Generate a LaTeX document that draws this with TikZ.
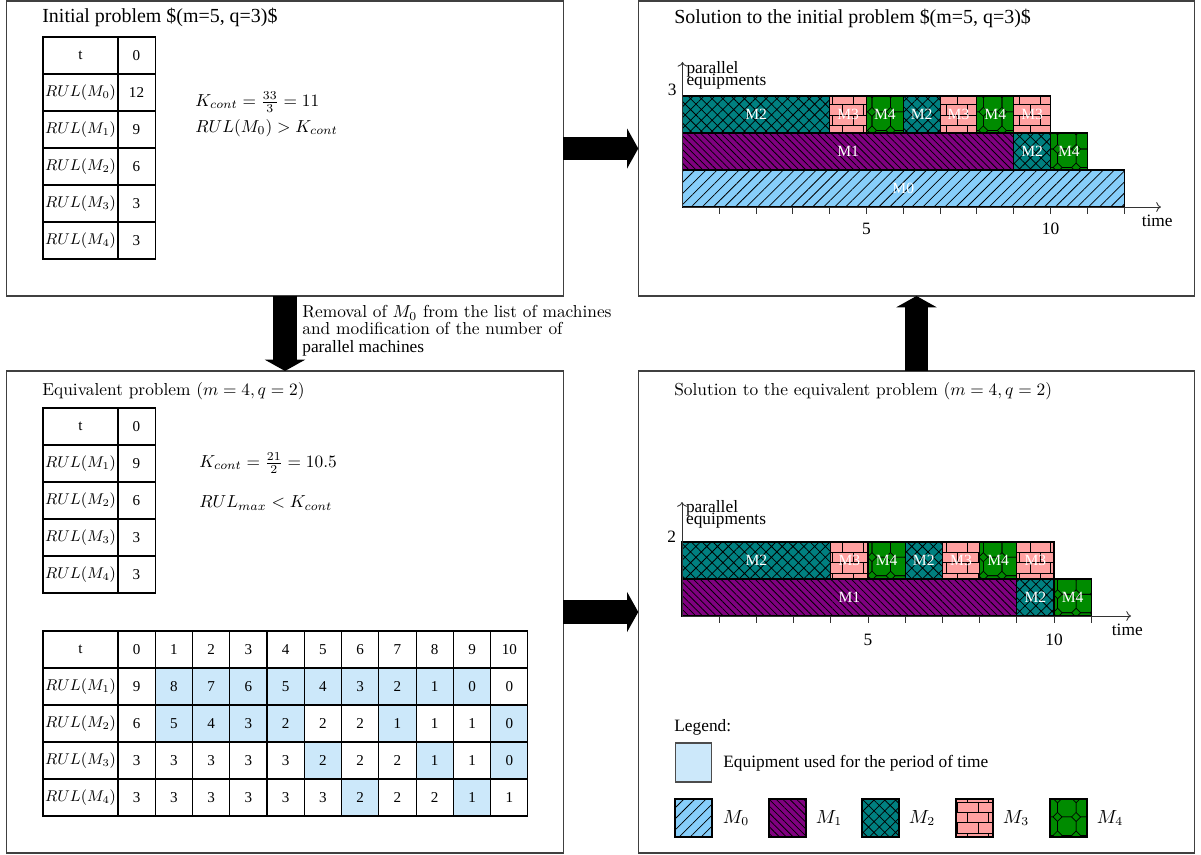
\documentclass[tikz,border=0pt]{standalone}
\usepackage{fontspec}
\newfontfamily\tms{Liberation Serif}
\usetikzlibrary{arrows.meta,patterns,patterns.meta}

\definecolor{mzerocol}{RGB}{135,206,250}
\definecolor{monecol}{RGB}{128,0,128}
\definecolor{mtwocol}{RGB}{0,128,128}
\definecolor{mthreecol}{RGB}{255,160,160}
\definecolor{mfourcol}{RGB}{0,139,0}
\definecolor{usedcol}{RGB}{204,232,250}

% brick wall for M3
\pgfdeclarepatternformonly{brickwall}{\pgfqpoint{-0.5pt}{-0.5pt}}{\pgfqpoint{12.5pt}{12.5pt}}{\pgfqpoint{12pt}{12pt}}{
  \pgfsetlinewidth{0.5pt}
  \pgfpathmoveto{\pgfqpoint{0pt}{0pt}}\pgfpathlineto{\pgfqpoint{12pt}{0pt}}
  \pgfpathmoveto{\pgfqpoint{0pt}{6pt}}\pgfpathlineto{\pgfqpoint{12pt}{6pt}}
  \pgfpathmoveto{\pgfqpoint{0pt}{0pt}}\pgfpathlineto{\pgfqpoint{0pt}{6pt}}
  \pgfpathmoveto{\pgfqpoint{6pt}{6pt}}\pgfpathlineto{\pgfqpoint{6pt}{12pt}}
  \pgfusepath{stroke}}
% octagon cells for M4
\pgfdeclarepatternformonly{octcells}{\pgfqpoint{-0.5pt}{-0.5pt}}{\pgfqpoint{11.2pt}{11.2pt}}{\pgfqpoint{10.7pt}{10.7pt}}{
  \pgfsetlinewidth{0.4pt}
  \pgfpathmoveto{\pgfqpoint{2.6pt}{0pt}}
  \pgfpathlineto{\pgfqpoint{8.1pt}{0pt}}
  \pgfpathlineto{\pgfqpoint{10.7pt}{2.6pt}}
  \pgfpathlineto{\pgfqpoint{10.7pt}{8.1pt}}
  \pgfpathlineto{\pgfqpoint{8.1pt}{10.7pt}}
  \pgfpathlineto{\pgfqpoint{2.6pt}{10.7pt}}
  \pgfpathlineto{\pgfqpoint{0pt}{8.1pt}}
  \pgfpathlineto{\pgfqpoint{0pt}{2.6pt}}
  \pgfpathclose
  \pgfusepath{stroke}}

\tikzset{
  toppanel/.style={draw=black!75, line width=0.7pt, outer sep=0pt, minimum width=320.9pt, minimum height=170.1pt},
  botpanel/.style={draw=black!75, line width=0.7pt, outer sep=0pt, minimum width=320.9pt, minimum height=278pt},
  bigarrow/.style={draw=black, line width=13.3pt, -{Triangle[length=6.5pt, width=23pt]}},
  ttitle/.style={anchor=west, inner sep=0pt, font=\tms\fontsize{11.5}{13}\selectfont},
  ctitle/.style={anchor=west, inner sep=0pt, font=\fontsize{10}{12}\selectfont},
  formula/.style={anchor=west, inner sep=0pt, font=\fontsize{10.4}{12}\selectfont},
  note/.style={anchor=north west, align=left, inner sep=0pt, font=\fontsize{10}{10}\selectfont},
  tcell/.style={draw=black, line width=0.6pt, minimum height=21.34pt, inner sep=0pt, font=\tms\fontsize{8.7}{10}\selectfont},
  tused/.style={tcell, fill=usedcol},
  headw/.style={minimum width=43.25pt},
  numw/.style={minimum width=21.45pt},
  mzeroblk/.style={fill=mzerocol, postaction={pattern={Lines[angle=45,distance=4.5pt,line width=0.45pt]}, pattern color=black}, postaction={draw=black, line width=0.6pt}},
  moneblk/.style={fill=monecol, postaction={pattern={Lines[angle=-45,distance=2.8pt,line width=0.45pt]}, pattern color=black}, postaction={draw=black, line width=0.6pt}},
  mtwoblk/.style={fill=mtwocol, postaction={pattern={Hatch[angle=45,distance=4.4pt,line width=0.45pt]}, pattern color=black}, postaction={draw=black, line width=0.6pt}},
  mthreeblk/.style={fill=mthreecol, postaction={pattern=brickwall, pattern color=black}, postaction={draw=black, line width=0.6pt}},
  mfourblk/.style={fill=mfourcol, postaction={pattern=octcells, pattern color=black}, postaction={draw=black, line width=0.6pt}},
  blklabel/.style={text=white, inner sep=0pt, font=\tms\fontsize{9}{10}\selectfont},
  axisline/.style={draw=black!80, line width=0.5pt},
  tlabel/.style={inner sep=0pt, font=\tms\fontsize{10}{12}\selectfont},
  ylabel/.style={anchor=west, inner sep=0pt, font=\tms\fontsize{10}{12}\selectfont},
  leglabel/.style={inner sep=0pt, font=\fontsize{10.5}{12}\selectfont},
}

\begin{document}
\begin{tikzpicture}[x=0.5767pt, y=-0.5767pt]
\useasboundingbox (0,0) rectangle (1201,854);
% the four panels
\node[toppanel] (initpb) at (285,148.5) {};
\node[toppanel] (initsol) at (916.5,148.5) {};
\node[botpanel] (equivpb) at (285,612) {};
\node[botpanel] (equivsol) at (916.5,612) {};
\draw[bigarrow] (initpb.east) -- (initsol.west);
\draw[bigarrow] (initpb.south) -- (equivpb.north);
\draw[bigarrow] (equivpb.east) -- (equivsol.west);
\draw[bigarrow] (equivsol.north) -- (initsol.south);
\node[note] (removal) at (302,305) {Removal of $M_0$ from the list of machines\\and modification of the number of\\{\tms parallel machines}};

% initial problem
\node[ttitle] (inittitle) at (42,17) {Initial problem \$(m=5, q=3)\$};
\node[tcell,headw] (ia0) at (80.5,55.5) {t};
\node[tcell,numw] (ib0) at (136.5,55.5) {0};
\node[tcell,headw] (ia1) at (80.5,92.5) {$RUL(M_0)$};
\node[tcell,numw] (ib1) at (136.5,92.5) {12};
\node[tcell,headw] (ia2) at (80.5,129.5) {$RUL(M_1)$};
\node[tcell,numw] (ib2) at (136.5,129.5) {9};
\node[tcell,headw] (ia3) at (80.5,166.5) {$RUL(M_2)$};
\node[tcell,numw] (ib3) at (136.5,166.5) {6};
\node[tcell,headw] (ia4) at (80.5,203.5) {$RUL(M_3)$};
\node[tcell,numw] (ib4) at (136.5,203.5) {3};
\node[tcell,headw] (ia5) at (80.5,240.5) {$RUL(M_4)$};
\node[tcell,numw] (ib5) at (136.5,240.5) {3};
\node[formula] (initk) at (195,102) {$K_{cont} = \frac{33}{3} = 11$};
\node[formula] (initcmp) at (195,128) {$RUL(M_0) > K_{cont}$};

% equivalent problem
\node[ctitle] (equivtitle) at (42,391) {Equivalent problem $(m=4, q=2)$};
\node[tcell,headw] (ea0) at (80.5,426.5) {t};
\node[tcell,numw] (eb0) at (136.5,426.5) {0};
\node[tcell,headw] (ea1) at (80.5,463.5) {$RUL(M_1)$};
\node[tcell,numw] (eb1) at (136.5,463.5) {9};
\node[tcell,headw] (ea2) at (80.5,500.5) {$RUL(M_2)$};
\node[tcell,numw] (eb2) at (136.5,500.5) {6};
\node[tcell,headw] (ea3) at (80.5,537.5) {$RUL(M_3)$};
\node[tcell,numw] (eb3) at (136.5,537.5) {3};
\node[tcell,headw] (ea4) at (80.5,574.5) {$RUL(M_4)$};
\node[tcell,numw] (eb4) at (136.5,574.5) {3};
\node[formula] (equivk) at (199,463) {$K_{cont} = \frac{21}{2} = 10.5$};
\node[formula] (equivcmp) at (199,503) {$RUL_{max} < K_{cont}$};

% usage table
\node[tcell,headw] (bt0) at (80.5,649.5) {t};
\node[tcell,headw] (bt1) at (80.5,686.5) {$RUL(M_1)$};
\node[tcell,headw] (bt2) at (80.5,723.5) {$RUL(M_2)$};
\node[tcell,headw] (bt3) at (80.5,760.5) {$RUL(M_3)$};
\node[tcell,headw] (bt4) at (80.5,797.5) {$RUL(M_4)$};
\foreach \v [count=\j from 0] in {0,...,10}
  \node[tcell,numw] (bt0c\j) at ({136.6+37.27*\j},649.5) {\v};
\foreach \v/\s [count=\j from 0] in {9/tcell,8/tused,7/tused,6/tused,5/tused,4/tused,3/tused,2/tused,1/tused,0/tused,0/tcell}
  \node[\s,numw] (bt1c\j) at ({136.6+37.27*\j},686.5) {\v};
\foreach \v/\s [count=\j from 0] in {6/tcell,5/tused,4/tused,3/tused,2/tused,2/tcell,2/tcell,1/tused,1/tcell,1/tcell,0/tused}
  \node[\s,numw] (bt2c\j) at ({136.6+37.27*\j},723.5) {\v};
\foreach \v/\s [count=\j from 0] in {3/tcell,3/tcell,3/tcell,3/tcell,3/tcell,2/tused,2/tcell,2/tcell,1/tused,1/tcell,0/tused}
  \node[\s,numw] (bt3c\j) at ({136.6+37.27*\j},760.5) {\v};
\foreach \v/\s [count=\j from 0] in {3/tcell,3/tcell,3/tcell,3/tcell,3/tcell,3/tcell,2/tused,2/tcell,2/tcell,1/tused,1/tcell}
  \node[\s,numw] (bt4c\j) at ({136.6+37.27*\j},797.5) {\v};

% solution of the initial problem
\node[ttitle] (soltitle) at (674,18) {Solution to the initial problem \$(m=5, q=3)\$};
\begin{scope}[shift={(682.5,207)}, x={(36.8,0)}, y={(0,-37)}]
\path[mzeroblk] (0,0) rectangle (12,1);
\node[blklabel] (sa0) at (6,0.5) {M0};
\path[moneblk] (0,1) rectangle (9,2);
\node[blklabel] (sb1) at (4.5,1.5) {M1};
\path[mtwoblk] (9,1) rectangle (10,2);
\node[blklabel] (sb2) at (9.5,1.5) {M2};
\path[mfourblk] (10,1) rectangle (11,2);
\node[blklabel] (sb3) at (10.5,1.5) {M4};
\path[mtwoblk] (0,2) rectangle (4,3);
\node[blklabel] (sc1) at (2,2.5) {M2};
\path[mthreeblk] (4,2) rectangle (5,3);
\node[blklabel] (sc2) at (4.5,2.5) {M3};
\path[mfourblk] (5,2) rectangle (6,3);
\node[blklabel] (sc3) at (5.5,2.5) {M4};
\path[mtwoblk] (6,2) rectangle (7,3);
\node[blklabel] (sc4) at (6.5,2.5) {M2};
\path[mthreeblk] (7,2) rectangle (8,3);
\node[blklabel] (sc5) at (7.5,2.5) {M3};
\path[mfourblk] (8,2) rectangle (9,3);
\node[blklabel] (sc6) at (8.5,2.5) {M4};
\path[mthreeblk] (9,2) rectangle (10,3);
\node[blklabel] (sc7) at (9.5,2.5) {M3};
\draw[axisline,->] (0,0) -- (13,0);
\draw[axisline,->] (0,0) -- (0,3.92);
\foreach \t in {1,...,12}
  \draw[axisline] (\t,0) -- (\t,-0.2);
\node[tlabel] (sfive) at (5,-0.6) {5};
\node[tlabel] (sten) at (10,-0.6) {10};
\node[tlabel] (stime) at (12.9,-0.38) {time};
\node[tlabel] (sq) at (-0.28,3.16) {3};
\node[ylabel] (spar) at (0.1,3.73) {parallel};
\node[ylabel] (sequ) at (0.1,3.38) {equipments};
\end{scope}

% solution of the equivalent problem
\node[ctitle] (esoltitle) at (674,391) {Solution to the equivalent problem $(m=4, q=2)$};
\begin{scope}[shift={(682,616)}, x={(37.2,0)}, y={(0,-37)}]
\path[moneblk] (0,0) rectangle (9,1);
\node[blklabel] (ea1l) at (4.5,0.5) {M1};
\path[mtwoblk] (9,0) rectangle (10,1);
\node[blklabel] (ea2l) at (9.5,0.5) {M2};
\path[mfourblk] (10,0) rectangle (11,1);
\node[blklabel] (ea3l) at (10.5,0.5) {M4};
\path[mtwoblk] (0,1) rectangle (4,2);
\node[blklabel] (eb1l) at (2,1.5) {M2};
\path[mthreeblk] (4,1) rectangle (5,2);
\node[blklabel] (eb2l) at (4.5,1.5) {M3};
\path[mfourblk] (5,1) rectangle (6,2);
\node[blklabel] (eb3l) at (5.5,1.5) {M4};
\path[mtwoblk] (6,1) rectangle (7,2);
\node[blklabel] (eb4l) at (6.5,1.5) {M2};
\path[mthreeblk] (7,1) rectangle (8,2);
\node[blklabel] (eb5l) at (7.5,1.5) {M3};
\path[mfourblk] (8,1) rectangle (9,2);
\node[blklabel] (eb6l) at (8.5,1.5) {M4};
\path[mthreeblk] (9,1) rectangle (10,2);
\node[blklabel] (eb7l) at (9.5,1.5) {M3};
\draw[axisline,->] (0,0) -- (12.07,0);
\draw[axisline,->] (0,0) -- (0,3.08);
\foreach \t in {1,...,11}
  \draw[axisline] (\t,0) -- (\t,-0.2);
\node[tlabel] (efive) at (5,-0.65) {5};
\node[tlabel] (eten) at (10,-0.65) {10};
\node[tlabel] (etime) at (11.97,-0.38) {time};
\node[tlabel] (eq) at (-0.28,2.14) {2};
\node[ylabel] (epar) at (0.1,2.92) {parallel};
\node[ylabel] (eequ) at (0.1,2.57) {equipments};
\end{scope}

% legend
\node[tlabel,anchor=west] (legtitle) at (674,727) {Legend:};
\node[draw=black!70, line width=0.6pt, fill=usedcol, minimum width=21.3pt, minimum height=22.5pt] (legused) at (693.5,762.5) {};
\node[tlabel,anchor=west] (legusedtxt) at (723,763) {Equipment used for the period of time};
\path[mzeroblk] (675,799) rectangle (712,837);
\node[leglabel] (legm0) at (736,818) {$M_0$};
\path[moneblk] (769,799) rectangle (806,837);
\node[leglabel] (legm1) at (829,818) {$M_1$};
\path[mtwoblk] (862,799) rectangle (899,837);
\node[leglabel] (legm2) at (922,818) {$M_2$};
\path[mthreeblk] (956,799) rectangle (993,837);
\node[leglabel] (legm3) at (1016,818) {$M_3$};
\path[mfourblk] (1050,799) rectangle (1087,837);
\node[leglabel] (legm4) at (1110,818) {$M_4$};
\end{tikzpicture}
\end{document}
